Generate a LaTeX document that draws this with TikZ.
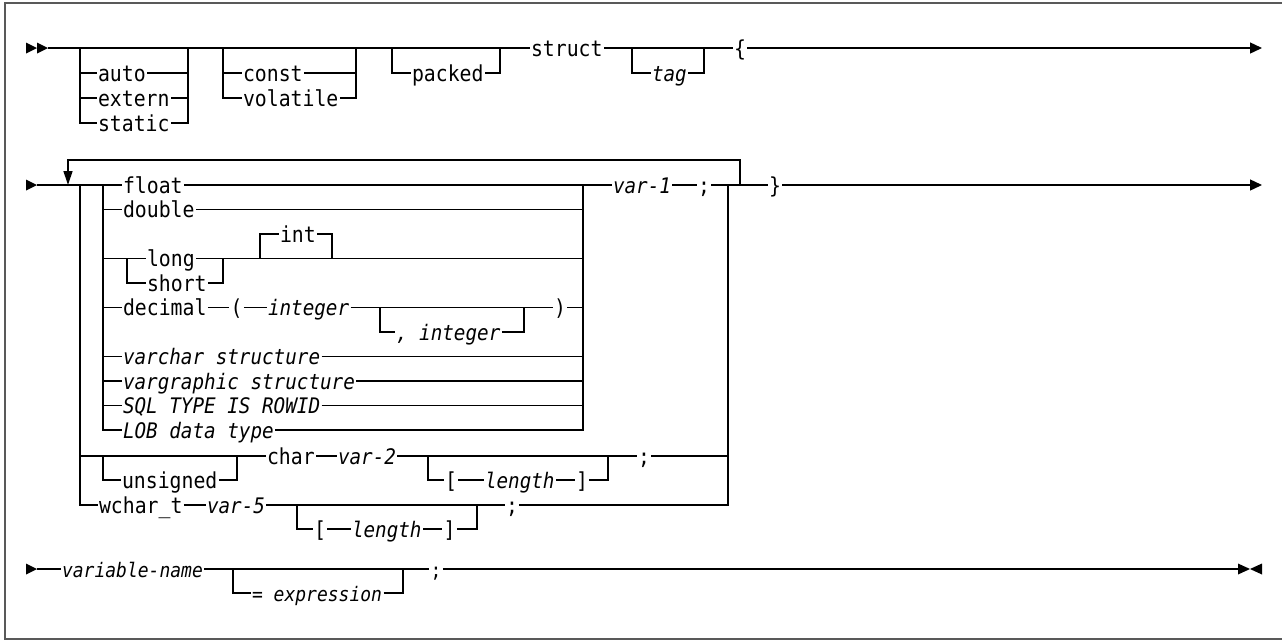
\documentclass[tikz,border=0pt]{standalone}
\usepackage{fontspec}
\setmonofont[FakeStretch=0.9]{DejaVu Sans Mono}
\usetikzlibrary{arrows.meta}
\begin{document}
\begin{tikzpicture}[x=1pt,y=-1pt,
  ln/.style={line width=1.3pt, black},
  endtip/.style={ln,-{Triangle[length=12pt,width=11pt]}},
  kw/.style={font=\ttfamily\fontsize{22}{24}\selectfont, inner sep=0pt, outer sep=1.5pt, anchor=west, text height=20pt, text depth=4pt},
  var/.style={kw, font=\ttfamily\itshape\fontsize{21.4}{24}\selectfont},
  kws/.style={kw, font=\ttfamily\fontsize{20}{22}\selectfont},
  vars/.style={kw, font=\ttfamily\itshape\fontsize{20}{22}\selectfont}
]
\useasboundingbox (0,0) rectangle (1282,641);
\draw[line width=1.5pt, black!65] (5,3) rectangle (1292,639);

% ---------------- Row 1 ----------------
\fill (26,42.5) -- (37,48) -- (26,53.5) -- cycle;
\fill (37,42.5) -- (48,48) -- (37,53.5) -- cycle;
\coordinate (r1s) at (48,48);
\coordinate (r1e) at (1262,48);
\node[kw] (auto) at (96.5,73) {auto};
\node[kw] (extern) at (96.5,98) {extern};
\node[kw] (static) at (96.5,123) {static};
\node[kw] (const) at (241.5,73) {const};
\node[kw] (volatile) at (241.5,98) {volatile};
\node[kw] (packed) at (410.5,73) {packed};
\node[kw] (struct) at (529.5,48) {struct};
\node[var] (tag) at (650.5,73) {tag};
\node[kw] (lbrace) at (732.5,48) {\{};

\draw[ln] (r1s) -- (struct.west);
\draw[ln] (struct.east) -- (lbrace.west);
\draw[endtip] (lbrace.east) -- (r1e);

\coordinate (g1l) at (80,48); \coordinate (g1r) at (188,48);
\draw[ln] (g1l) |- (static.west);
\draw[ln] (g1l |- auto) -- (auto.west);
\draw[ln] (g1l |- extern) -- (extern.west);
\draw[ln] (auto.east) -- (g1r |- auto);
\draw[ln] (extern.east) -- (g1r |- extern);
\draw[ln] (static.east) -| (g1r);

\coordinate (g2l) at (223,48); \coordinate (g2r) at (356,48);
\draw[ln] (g2l) |- (volatile.west);
\draw[ln] (g2l |- const) -- (const.west);
\draw[ln] (const.east) -- (g2r |- const);
\draw[ln] (volatile.east) -| (g2r);

\coordinate (g3l) at (392,48); \coordinate (g3r) at (500,48);
\draw[ln] (g3l) |- (packed.west);
\draw[ln] (packed.east) -| (g3r);

\coordinate (g4l) at (632,48); \coordinate (g4r) at (704,48);
\draw[ln] (g4l) |- (tag.west);
\draw[ln] (tag.east) -| (g4r);

% ---------------- Row 2 ----------------
\fill (26,179.5) -- (37,185) -- (26,190.5) -- cycle;
\coordinate (r2s) at (37,185);
\coordinate (r2e) at (1262,185);
\node[kw] (float) at (121.5,185) {float};
\node[var] (var1) at (611.5,185) {var-1};
\node[kw] (semi1) at (696.5,185) {;};
\node[kw] (rbrace) at (767.5,185) {\}};

\draw[ln] (r2s) -- (float.west);
\draw[ln] (float.east) -- (var1.west);
\draw[ln] (var1.east) -- (semi1.west);
\draw[ln] (semi1.east) -- (rbrace.west);
\draw[endtip] (rbrace.east) -- (r2e);

% repeat loop
\coordinate (lpr) at (740,185);
\coordinate (lpl) at (68,160);
\coordinate (lpt) at (68,185);
\draw[ln,-{Triangle[length=14pt,width=9pt]}] (lpr) |- (lpl) -- (lpt);

% outer and inner group junctions
\coordinate (ol) at (80,185);
\coordinate (orr) at (728,185);
\coordinate (il) at (103,185);
\coordinate (ir) at (583,185);

\node[kw] (double) at (121.5,209.5) {double};
\node[kw] (long) at (145.5,258.5) {long};
\node[kw] (short) at (145.5,283) {short};
\node[kw] (int) at (278.5,234) {int};
\node[kw] (decimal) at (121.5,307.5) {decimal};
\node[kw] (lpar) at (229,307.5) {(};
\node[var] (integer) at (266.5,307.5) {integer};
\node[var] (cinteger) at (394.5,332) {, integer};
\node[kw] (rpar) at (552.5,307.5) {)};
\node[var] (varchar) at (121.5,356.5) {varchar structure};
\node[var] (vargraphic) at (121.5,381) {vargraphic structure};
\node[var] (sqltype) at (121.5,405.5) {SQL TYPE IS ROWID};
\node[var] (lob) at (121.5,430) {LOB data type};

\draw[ln] (il) |- (lob.west);
\draw[ln] (lob.east) -| (ir);

\draw[ln] (il |- double) -- (double.west);
\draw[ln] (double.east) -- (ir |- double);

\coordinate (lgl) at (127,258.5); \coordinate (lgr) at (223,258.5);
\coordinate (inl) at (260,258.5); \coordinate (inr) at (332,258.5);
\draw[ln] (il |- long) -- (long.west);
\draw[ln] (lgl) |- (short.west);
\draw[ln] (short.east) -| (lgr);
\draw[ln] (long.east) -- (ir |- long);
\draw[ln] (inl) |- (int.west);
\draw[ln] (int.east) -| (inr);

\coordinate (dgl) at (380,307.5); \coordinate (dgr) at (524,307.5);
\draw[ln] (il |- decimal) -- (decimal.west);
\draw[ln] (decimal.east) -- (lpar.west);
\draw[ln] (lpar.east) -- (integer.west);
\draw[ln] (integer.east) -- (rpar.west);
\draw[ln] (rpar.east) -- (ir |- rpar);
\draw[ln] (dgl) |- (cinteger.west);
\draw[ln] (cinteger.east) -| (dgr);

\draw[ln] (il |- varchar) -- (varchar.west);
\draw[ln] (varchar.east) -- (ir |- varchar);
\draw[ln] (il |- vargraphic) -- (vargraphic.west);
\draw[ln] (vargraphic.east) -- (ir |- vargraphic);
\draw[ln] (il |- sqltype) -- (sqltype.west);
\draw[ln] (sqltype.east) -- (ir |- sqltype);

% char row
\node[kw] (char) at (265.5,456) {char};
\node[kw] (unsigned) at (120.5,480) {unsigned};
\node[var] (var2) at (336.5,456) {var-2};
\node[kw] (lbr1) at (443.5,480) {[};
\node[var] (len1) at (483.5,480) {length};
\node[kw] (rbr1) at (574.5,480) {]};
\node[kw] (semi2) at (636.5,456) {;};
\coordinate (ugl) at (103,456); \coordinate (ugr) at (237,456);
\coordinate (bgl) at (428,456); \coordinate (bgr) at (608,456);
\draw[ln] (ol |- char) -- (char.west);
\draw[ln] (ugl) |- (unsigned.west);
\draw[ln] (unsigned.east) -| (ugr);
\draw[ln] (char.east) -- (var2.west);
\draw[ln] (var2.east) -- (semi2.west);
\draw[ln] (bgl) |- (lbr1.west);
\draw[ln] (lbr1.east) -- (len1.west);
\draw[ln] (len1.east) -- (rbr1.west);
\draw[ln] (rbr1.east) -| (bgr);
\draw[ln] (semi2.east) -- (orr |- semi2);

% wchar_t row
\node[kw] (wchar) at (97.5,505) {wchar\_t};
\node[var] (var5) at (205.5,505) {var-5};
\node[kw] (lbr2) at (312.5,529) {[};
\node[var] (len2) at (350.5,529) {length};
\node[kw] (rbr2) at (442,529) {]};
\node[kw] (semi3) at (504.5,505) {;};
\coordinate (wgl) at (297,505); \coordinate (wgr) at (477,505);
\draw[ln] (ol) |- (wchar.west);
\draw[ln] (wchar.east) -- (var5.west);
\draw[ln] (var5.east) -- (semi3.west);
\draw[ln] (wgl) |- (lbr2.west);
\draw[ln] (lbr2.east) -- (len2.west);
\draw[ln] (len2.east) -- (rbr2.west);
\draw[ln] (rbr2.east) -| (wgr);
\draw[ln] (semi3.east) -| (orr);

% ---------------- Row 3 ----------------
\fill (26,563.5) -- (37,569) -- (26,574.5) -- cycle;
\coordinate (r3s) at (37,569);
\coordinate (r3e) at (1238,569);
\node[vars] (varname) at (60.5,569) {variable-name};
\node[kws] (expr) at (250.5,593) {= \textit{expression}};
\node[kws] (semi4) at (429,569) {;};
\coordinate (egl) at (233,569); \coordinate (egr) at (403,569);
\draw[ln] (r3s) -- (varname.west);
\draw[ln] (varname.east) -- (semi4.west);
\draw[ln] (egl) |- (expr.west);
\draw[ln] (expr.east) -| (egr);
\draw[ln] (semi4.east) -- (r3e);
\fill (1238,563.5) -- (1250,569) -- (1238,574.5) -- cycle;
\fill (1262,563.5) -- (1250,569) -- (1262,574.5) -- cycle;
\end{tikzpicture}
\end{document}
